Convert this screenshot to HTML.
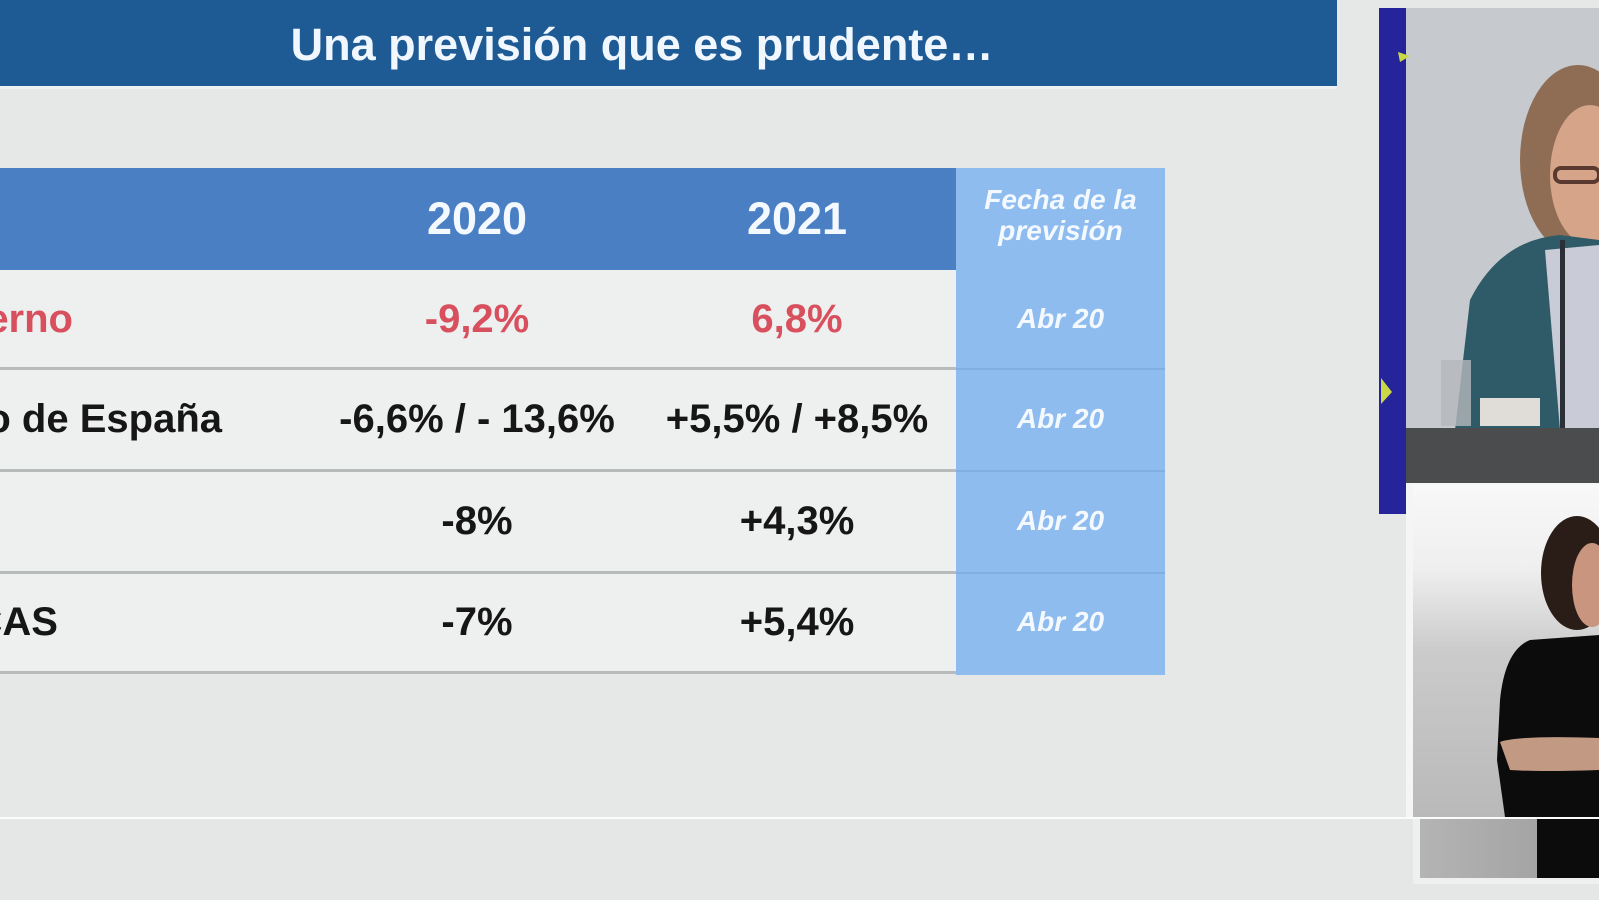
<!DOCTYPE html>
<html>
<head>
<meta charset="utf-8">
<style>
  html, body { margin:0; padding:0; }
  body {
    width:1599px; height:900px; overflow:hidden; position:relative;
    background:#e6e8e7;
    font-family:"Liberation Sans", Arial, sans-serif;
  }
  .abs { position:absolute; }
  .titlebar { left:0; top:0; width:1337px; height:86px; background:#1e5b94; }
  .titleline { left:0; top:86px; width:1337px; height:3px; background:#eef2f4; }
  .title {
    left:0; top:2px; width:1284px; height:86px; line-height:86px; text-align:center;
    color:#f1f7ff; font-weight:bold; font-size:45px; white-space:nowrap;
  }
  .hdr { left:0; top:168px; width:956px; height:102px; background:#4a7fc4; }
  .hdrf { left:956px; top:168px; width:209px; height:102px; background:#8ebcef; }
  .fcol { left:956px; top:270px; width:209px; height:405px; background:#8fbcee; }
  .rowbg { left:0; width:956px; background:#eeefef; }
  .sep { left:0; width:956px; height:3px; background:#b7bbbb; }
  .sepf { left:956px; width:209px; height:2px; background:#82afe3; }
  .hnum {
    width:200px; text-align:center; color:#f3f9ff; font-weight:bold; font-size:45px;
    height:102px; line-height:102px; top:168px;
  }
  .cell {
    width:340px; text-align:center; font-weight:bold; font-size:40px; color:#161616;
    height:100px; line-height:100px; white-space:nowrap;
  }
  .clip { left:0; top:0; width:300px; height:900px; overflow:hidden; }
  .lab {
    position:absolute; left:0; text-align:right; font-weight:bold; font-size:40px; color:#161616;
    height:100px; line-height:100px; white-space:nowrap;
  }
  .red { color:#d8505d; }
  .fe {
    left:956px; width:209px; text-align:center; color:#f4f9ff; font-weight:bold; font-style:italic;
    font-size:28px; white-space:nowrap;
  }
</style>
</head>
<body>
  <!-- title -->
  <div class="abs titlebar"></div>
  <div class="abs titleline"></div>
  <div class="abs title">Una previsión que es prudente…</div>

  <!-- table header -->
  <div class="abs hdr"></div>
  <div class="abs hdrf"></div>
  <div class="abs hnum" style="left:377px;">2020</div>
  <div class="abs hnum" style="left:697px;">2021</div>
  <div class="abs fe" style="top:184px; line-height:31px;">Fecha de la<br>previsión</div>

  <!-- fecha column body -->
  <div class="abs fcol"></div>

  <!-- rows background -->
  <div class="abs rowbg" style="top:270px; height:98px;"></div>
  <div class="abs rowbg" style="top:370px; height:100px;"></div>
  <div class="abs rowbg" style="top:472px; height:100px;"></div>
  <div class="abs rowbg" style="top:574px; height:98px;"></div>

  <!-- separators -->
  <div class="abs sep" style="top:367px;"></div>
  <div class="abs sep" style="top:469px;"></div>
  <div class="abs sep" style="top:571px;"></div>
  <div class="abs sep" style="top:671px;"></div>
  <div class="abs sepf" style="top:368px;"></div>
  <div class="abs sepf" style="top:470px;"></div>
  <div class="abs sepf" style="top:572px;"></div>

  <!-- clipped left labels -->
  <div class="abs clip">
    <div class="lab red" style="top:269px; width:73px; direction:rtl;"><span style="direction:ltr; unicode-bidi:embed;">Gobierno</span></div>
    <div class="lab" style="top:369px; width:222px; direction:rtl;"><span style="direction:ltr; unicode-bidi:embed;">Banco de España</span></div>
    <div class="lab" style="top:572px; width:58px; direction:rtl;"><span style="direction:ltr; unicode-bidi:embed;">FUNCAS</span></div>
  </div>

  <!-- row 1 -->
  <div class="abs cell red" style="left:307px; top:269px;">-9,2%</div>
  <div class="abs cell red" style="left:627px; top:269px;">6,8%</div>
  <div class="abs fe" style="top:269px; height:100px; line-height:100px;">Abr 20</div>

  <!-- row 2 -->
  <div class="abs cell" style="left:307px; top:369px;">-6,6% / - 13,6%</div>
  <div class="abs cell" style="left:627px; top:369px;">+5,5% / +8,5%</div>
  <div class="abs fe" style="top:369px; height:100px; line-height:100px;">Abr 20</div>

  <!-- row 3 -->
  <div class="abs cell" style="left:307px; top:471px;">-8%</div>
  <div class="abs cell" style="left:627px; top:471px;">+4,3%</div>
  <div class="abs fe" style="top:471px; height:100px; line-height:100px;">Abr 20</div>

  <!-- row 4 -->
  <div class="abs cell" style="left:307px; top:572px;">-7%</div>
  <div class="abs cell" style="left:627px; top:572px;">+5,4%</div>
  <div class="abs fe" style="top:572px; height:100px; line-height:100px;">Abr 20</div>

  <!-- bottom white line -->
  <div class="abs" style="left:0; top:817px; width:1599px; height:2px; background:#fafbfb;"></div>
  <div class="abs" style="left:0; top:819px; width:1599px; height:81px; background:#e4e7e6;"></div>

  <!-- right video panels -->
  <svg class="abs" style="left:1370px; top:0;" width="229" height="900" viewBox="1370 0 229 900">
    <defs>
      <linearGradient id="sg" x1="0" y1="0" x2="0" y2="1">
        <stop offset="0" stop-color="#f8f8f8"/>
        <stop offset="0.25" stop-color="#efefef"/>
        <stop offset="0.5" stop-color="#cbcbcb"/>
        <stop offset="1" stop-color="#b9b9b9"/>
      </linearGradient>
      <linearGradient id="sg2" x1="0" y1="0" x2="1" y2="0">
        <stop offset="0" stop-color="#b4b4b4"/>
        <stop offset="1" stop-color="#9c9c9c"/>
      </linearGradient>
    </defs>
    <!-- speaker panel bg -->
    <rect x="1379" y="8" width="220" height="476" fill="#c6c9cd"/>
    <!-- flag -->
    <rect x="1379" y="8" width="27" height="506" fill="#26249a"/>
    <polygon points="1398,52 1410,56 1400,62" fill="#c9d844"/>
    <polygon points="1381,378 1392,392 1381,404" fill="#c9d844"/>
    <!-- speaker -->
    <ellipse cx="1578" cy="160" rx="58" ry="95" fill="#8f6d55"/>
    <ellipse cx="1590" cy="175" rx="40" ry="70" fill="#d6a488"/>
    <rect x="1555" y="168" width="44" height="14" rx="6" fill="none" stroke="#5a3a30" stroke-width="4"/>
    <path d="M1470 300 Q1500 240 1560 235 L1599 240 L1599 430 L1455 430 Z" fill="#2f5b68"/>
    <path d="M1545 250 L1599 245 L1599 430 L1560 430 Z" fill="#c9cbd6"/>
    <rect x="1560" y="240" width="5" height="190" fill="#2a3036"/>
    <rect x="1441" y="360" width="30" height="66" fill="#b4b8bc" opacity="0.8"/>
    <rect x="1480" y="398" width="60" height="28" fill="#e0dcd8"/>
    <!-- podium -->
    <rect x="1406" y="428" width="193" height="55" fill="#4a4c4d"/>
    <!-- sign panel -->
    <rect x="1406" y="483" width="193" height="334" fill="#f4f5f5"/>
    <rect x="1413" y="485" width="186" height="332" fill="url(#sg)"/>
    <ellipse cx="1577" cy="573" rx="36" ry="57" fill="#2a1c17"/>
    <ellipse cx="1592" cy="585" rx="20" ry="42" fill="#c9957e"/>
    <path d="M1530 640 Q1505 650 1500 700 L1497 760 L1505 817 L1599 817 L1599 635 Z" fill="#0c0c0c"/>
    <path d="M1500 742 Q1520 735 1599 738 L1599 770 Q1540 772 1510 770 Z" fill="#c29a84"/>
    <!-- lower strip -->
    <rect x="1413" y="819" width="186" height="65" fill="#eef0ef"/>
    <rect x="1420" y="819" width="179" height="59" fill="url(#sg2)"/>
    <rect x="1537" y="819" width="62" height="59" fill="#0c0c0c"/>
  </svg>
</body>
</html>
